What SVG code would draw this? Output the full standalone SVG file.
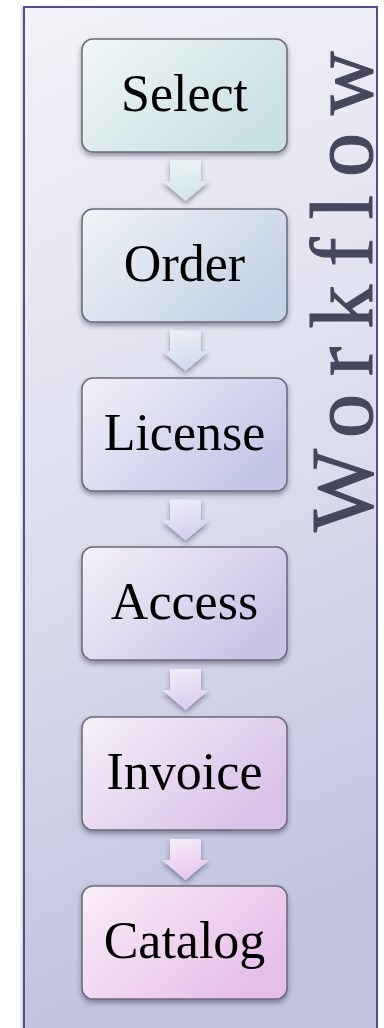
<svg xmlns="http://www.w3.org/2000/svg" width="384" height="1028" viewBox="0 0 384 1028">
<style>
.box{stroke:#6b6b78;stroke-width:1.5}
.lbl{font-family:"Liberation Serif","Times New Roman",serif;font-size:52px;fill:#000;text-anchor:middle}
.title{font-family:"Liberation Serif","Times New Roman",serif;font-size:88px;fill:#46465c;stroke:#46465c;stroke-width:1;letter-spacing:18px}
</style>
<defs>
<linearGradient id="bg" x1="0" y1="0" x2="0.15" y2="1">
<stop offset="0" stop-color="#f2f2f8"/><stop offset="0.5" stop-color="#dedfee"/><stop offset="1" stop-color="#c1c3de"/>
</linearGradient>
<filter id="sh" x="-10%" y="-10%" width="120%" height="130%">
<feDropShadow dx="0" dy="3" stdDeviation="2.5" flood-color="#202040" flood-opacity="0.45"/>
</filter>
<filter id="fsh" x="-5%" y="-5%" width="110%" height="110%">
<feDropShadow dx="-2" dy="0" stdDeviation="1.5" flood-color="#000" flood-opacity="0.25"/>
</filter>
<linearGradient id="g1" x1="0" y1="0" x2="1" y2="0.6"><stop offset="0" stop-color="#f2f7f7"/><stop offset="1" stop-color="#c9e0e4"/></linearGradient>
<linearGradient id="g2" x1="0" y1="0" x2="1" y2="0.6"><stop offset="0" stop-color="#f0f3f7"/><stop offset="1" stop-color="#c5d3e6"/></linearGradient>
<linearGradient id="g3" x1="0" y1="0" x2="1" y2="0.6"><stop offset="0" stop-color="#f1f1f9"/><stop offset="1" stop-color="#c4c6e7"/></linearGradient>
<linearGradient id="g4" x1="0" y1="0" x2="1" y2="0.6"><stop offset="0" stop-color="#f4f2f9"/><stop offset="1" stop-color="#cbc3e6"/></linearGradient>
<linearGradient id="g5" x1="0" y1="0" x2="1" y2="0.6"><stop offset="0" stop-color="#f7f0f9"/><stop offset="1" stop-color="#d8c2e8"/></linearGradient>
<linearGradient id="g6" x1="0" y1="0" x2="1" y2="0.6"><stop offset="0" stop-color="#faeef8"/><stop offset="1" stop-color="#e6bfe9"/></linearGradient>
<linearGradient id="a1" x1="0" y1="0" x2="0.3" y2="1"><stop offset="0" stop-color="#eef5f6"/><stop offset="1" stop-color="#d3e6ea"/></linearGradient>
<linearGradient id="a2" x1="0" y1="0" x2="0.3" y2="1"><stop offset="0" stop-color="#eef1f7"/><stop offset="1" stop-color="#d0dbec"/></linearGradient>
<linearGradient id="a3" x1="0" y1="0" x2="0.3" y2="1"><stop offset="0" stop-color="#f0f0f9"/><stop offset="1" stop-color="#d2d0ee"/></linearGradient>
<linearGradient id="a4" x1="0" y1="0" x2="0.3" y2="1"><stop offset="0" stop-color="#f3eff9"/><stop offset="1" stop-color="#dbcdee"/></linearGradient>
<linearGradient id="a5" x1="0" y1="0" x2="0.3" y2="1"><stop offset="0" stop-color="#f8eef9"/><stop offset="1" stop-color="#e9c9ee"/></linearGradient>
<path id="arr" d="M-15.5,0 H15.5 V21 H23.5 L0,41 L-23.5,21 H-15.5 Z"/>
</defs>
<rect x="0" y="0" width="384" height="1028" fill="#ffffff"/>
<g id="frame">
<rect x="24" y="7" width="353" height="1030" fill="url(#bg)" filter="url(#fsh)"/>
<rect x="24" y="7" width="353" height="1030" fill="none" stroke="#50508c" stroke-width="2"/>
</g>
<g id="title">
<text class="title" transform="translate(372,532) rotate(-90)">Workflow</text>
</g>
<g id="connectors" filter="url(#sh)">
<use href="#arr" x="185.5" y="160" fill="url(#a1)"/>
<use href="#arr" x="185.5" y="330" fill="url(#a2)"/>
<use href="#arr" x="185.5" y="499.5" fill="url(#a3)"/>
<use href="#arr" x="185.5" y="669" fill="url(#a4)"/>
<use href="#arr" x="185.5" y="839" fill="url(#a5)"/>
</g>
<g id="node-select">
<rect class="box" x="82" y="39" width="205" height="113" rx="11" fill="url(#g1)" filter="url(#sh)"/>
<text class="lbl" x="184.5" y="111">Select</text>
</g>
<g id="node-order">
<rect class="box" x="82" y="209" width="205" height="113" rx="11" fill="url(#g2)" filter="url(#sh)"/>
<text class="lbl" x="184.5" y="281">Order</text>
</g>
<g id="node-license">
<rect class="box" x="82" y="378" width="205" height="113" rx="11" fill="url(#g3)" filter="url(#sh)"/>
<text class="lbl" x="184.5" y="450">License</text>
</g>
<g id="node-access">
<rect class="box" x="82" y="547" width="205" height="113" rx="11" fill="url(#g4)" filter="url(#sh)"/>
<text class="lbl" x="184.5" y="619">Access</text>
</g>
<g id="node-invoice">
<rect class="box" x="82" y="717" width="205" height="113" rx="11" fill="url(#g5)" filter="url(#sh)"/>
<text class="lbl" x="184.5" y="789">Invoice</text>
</g>
<g id="node-catalog">
<rect class="box" x="82" y="886" width="205" height="113" rx="11" fill="url(#g6)" filter="url(#sh)"/>
<text class="lbl" x="184.5" y="958">Catalog</text>
</g>
</svg>
